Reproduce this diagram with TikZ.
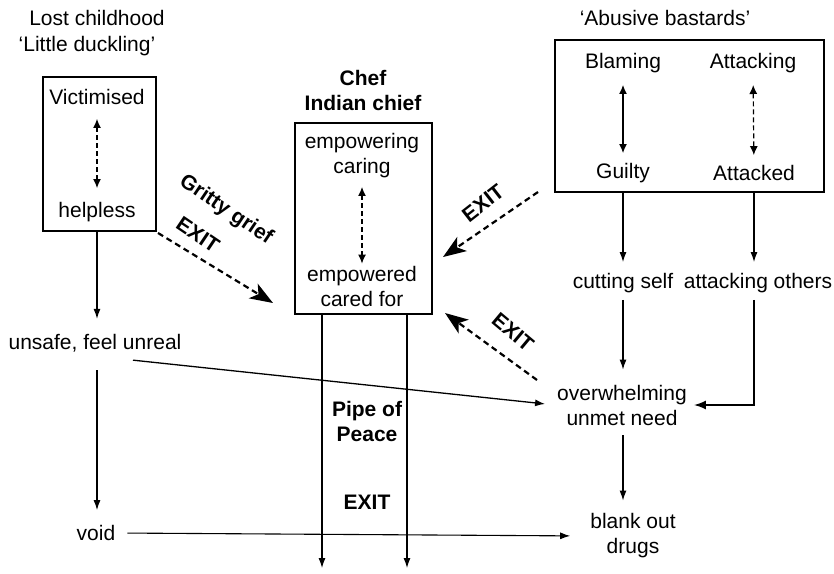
\documentclass[tikz,border=0pt]{standalone}
\usepackage{fontspec}
\setmainfont{Liberation Sans}
\usetikzlibrary{arrows.meta,positioning}

\begin{document}
\begin{tikzpicture}[x=1pt,y=-1pt,
  every node/.style={font=\fontsize{21}{25}\selectfont, align=center, inner sep=2pt},
  bold/.style={font=\fontsize{21}{25}\selectfont\bfseries},
  box/.style={draw, line width=1.1pt, inner sep=0pt},
  conn/.style={line width=1.1pt, -{Latex[length=10pt,width=7pt]}},
  twoway/.style={line width=1.2pt, dash pattern=on 5pt off 3pt, {Latex[length=9pt,width=8pt]}-{Latex[length=9pt,width=8pt]}},
  exitarrow/.style={line width=2.2pt, dash pattern=on 6pt off 4pt, -{Stealth[length=23pt,width=17pt,inset=6pt]}}]
\useasboundingbox (0,0) rectangle (834,573);

% left: little duckling
\node (lost) at (97,18) {Lost childhood};
\node (duck) at (87,46) {‘Little duckling’};
\node[box, minimum width=113pt, minimum height=154pt] (duckbox) at (99.5,154) {};
\node (vict) at (97,97) {Victimised};
\node (help) at (97,212) {helpless};
\node (unsafe) at (95,343) {unsafe, feel unreal};
\node (void) at (96,533) {void};

% middle: chef
\node[bold] (chef) at (363,90) {Chef\\Indian chief};
\node[box, minimum width=137pt, minimum height=191pt] (chefbox) at (363.5,218.5) {};
\node (care) at (362,155.5) {empowering\\caring};
\node (cared) at (362,286) {empowered\\cared for};
\node[bold] (pipe) at (367,421) {Pipe of\\Peace};
\node[bold] (exitc) at (367,502) {EXIT};
\coordinate (outl) at (322,568);
\coordinate (outr) at (407,568);

% right: abusive bastards
\node (abusive) at (665,18) {‘Abusive bastards’};
\node[box, minimum width=269pt, minimum height=152pt] (abbox) at (689.5,116) {};
\node (blame) at (623,63) {Blaming};
\node (guilty) at (623,173) {Guilty};
\node (attacking) at (753,63) {Attacking};
\node (attacked) at (754,173) {Attacked};
\node (cutting) at (623,283) {cutting self};
\node (others) at (758,283) {attacking others};
\node (need) at (622,405) {overwhelming\\unmet need};
\node (blank) at (633,536) {blank out\\drugs};

% exits
\node[bold, rotate=-34] (gritty) at (226,210) {Gritty grief};
\node[bold, rotate=-34] (exitg) at (198,235) {EXIT};
\node[bold, rotate=38] (exitu) at (483,203) {EXIT};
\node[bold, rotate=-40] (exitd) at (513,332) {EXIT};
\coordinate (gtail) at (158,233);
\coordinate (gtip) at (273,303);
\coordinate (utail) at (538,192);
\coordinate (utip) at (443,257);
\coordinate (dtail) at (537,380);
\coordinate (dtip) at (445,313);

\draw[twoway, shorten <=12pt, shorten >=12pt] (vict) -- (help);
\draw[twoway, shorten <=7pt] (care) -- (cared);
\draw[line width=1.2pt, {Latex[length=9pt,width=8pt]}-{Latex[length=9pt,width=8pt]}, shorten <=10pt, shorten >=8pt] (blame) -- (guilty);
\draw[twoway, shorten <=10pt, shorten >=8pt] (attacking) -- (attacked);

\draw[conn, shorten >=13pt] (duckbox.south -| help) -- (unsafe.north -| help);
\draw[conn, shorten <=16pt, shorten >=13pt] (unsafe.south -| help) -- (void.north -| help);
\draw[conn, line width=1.3pt, shorten >=10pt] ([xshift=38pt,yshift=-6pt]unsafe.south) -- (need.west);
\draw[conn, shorten <=10pt, shorten >=18pt] (void.east) -- (blank.west);
\draw[conn] (chefbox.south -| outl) -- (outl);
\draw[conn] (chefbox.south -| outr) -- (outr);
\draw[conn, shorten >=9pt] (abbox.south -| guilty) -- (cutting.north -| guilty);
\draw[conn, shorten >=9pt] (abbox.south -| attacked) -- (others.north -| attacked);
\draw[conn, shorten <=5pt, shorten >=13pt] (cutting.south) -- (need.north -| cutting);
\draw[conn, line width=1.5pt, -{Latex[length=12pt,width=9pt]}, shorten <=5pt, shorten >=5pt] (others.south -| attacked) |- (need.east);
\draw[conn, shorten <=8pt, shorten >=11pt] (need.south -| cutting) -- (blank.north -| cutting);

\draw[exitarrow] (gtail) -- (gtip);
\draw[exitarrow] (utail) -- (utip);
\draw[exitarrow] (dtail) -- (dtip);

\end{tikzpicture}
\end{document}
